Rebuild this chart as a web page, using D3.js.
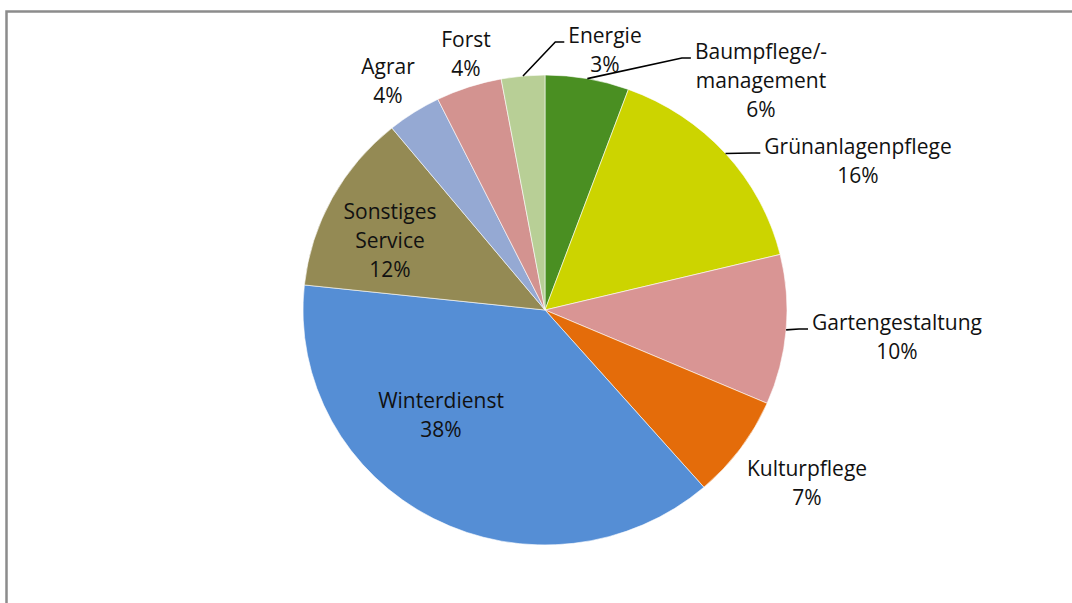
<!DOCTYPE html>
<html>
<head>
<meta charset="utf-8">
<script src="https://cdn.jsdelivr.net/npm/d3@7"></script>
<style>
  body { margin: 0; background: #fff; }
  .lbl { font-family: 'Open Sans', sans-serif; font-size: 21px; fill: #111; }
</style>
</head>
<body>
<div id="graf"></div>
<script>
// I. Datos
categorias = ['Baumpflege/-\nmanagement', 'Grünanlagenpflege', 'Gartengestaltung', 'Kulturpflege',
              'Winterdienst', 'Sonstiges\nService', 'Agrar', 'Forst', 'Energie']
valores = [5.6, 15.6, 10.3, 7.1, 38.1, 12.4, 3.6, 4.4, 2.9]
colores = ['#4a8f22', '#ccd400', '#d99594', '#e46c0a', '#558ed5', '#948a54', '#95a9d3', '#d39390', '#b8cf96']

// II. Configuración
ancho_total = 1072
alto_total = 603
cx = 545
cy = 310
radio = 242
aspecto = 0.971   // el pastel original está un poco achatado

// posición de cada etiqueta: centro x, línea base de la primera línea
posEtiquetas = [[761, 59], [858, 154], [897, 330], [807, 476], [441, 408],
                [390, 219], [388, 74], [466, 47], [605, 43]]
conLinea = [true, true, true, false, false, false, false, false, true]
interlineado = 29

svg = d3.select('#graf').append('svg')
        .attr('width', ancho_total)
        .attr('height', alto_total)

// marco gris
svg.append('rect')
   .attr('x', 6.5).attr('y', 11.5)
   .attr('width', 1200).attr('height', 800)
   .attr('fill', 'none')
   .attr('stroke', '#8c8c8c')
   .attr('stroke-width', 2.5)

datos = categorias.map((c, i) => ({ nombre: c, valor: valores[i], color: colores[i], i: i }))

pie = d3.pie().sort(null).value(d => d.valor)
arcos = pie(datos)

arc = d3.arc().innerRadius(0).outerRadius(radio)

g = svg.append('g')
       .attr('transform', `translate(${cx}, ${cy}) scale(1, ${aspecto})`)

g.selectAll('path')
 .data(arcos)
 .enter()
 .append('path')
   .attr('d', arc)
   .attr('fill', d => d.data.color)
   .attr('stroke', '#fff')
   .attr('stroke-width', 0.6)

// III. Etiquetas
etiquetas = svg.append('g')

arcos.forEach((a, i) => {
  p = posEtiquetas[i]
  lineas = a.data.nombre.split('\n').concat([Math.round(a.data.valor) + '%'])
  t = etiquetas.append('text')
        .attr('class', 'lbl')
        .attr('text-anchor', 'middle')
  lineas.forEach((l, k) => {
    t.append('tspan')
     .attr('x', p[0])
     .attr('y', p[1] + k * interlineado)
     .text(l)
  })

  if (conLinea[i]) {
    primera = t.select('tspan').node().getComputedTextLength()
    finX = p[0] - primera / 2 - 4
    finY = p[1] - 1
    ang = (a.startAngle + a.endAngle) / 2
    ini = [cx + radio * Math.sin(ang), cy - radio * aspecto * Math.cos(ang)]
    codo = [finX - 9, finY]
    etiquetas.append('path')
      .attr('d', d3.line()([ini, codo, [finX, finY]]))
      .attr('fill', 'none')
      .attr('stroke', '#000')
      .attr('stroke-width', 1.6)
  }
})
</script>
</body>
</html>
